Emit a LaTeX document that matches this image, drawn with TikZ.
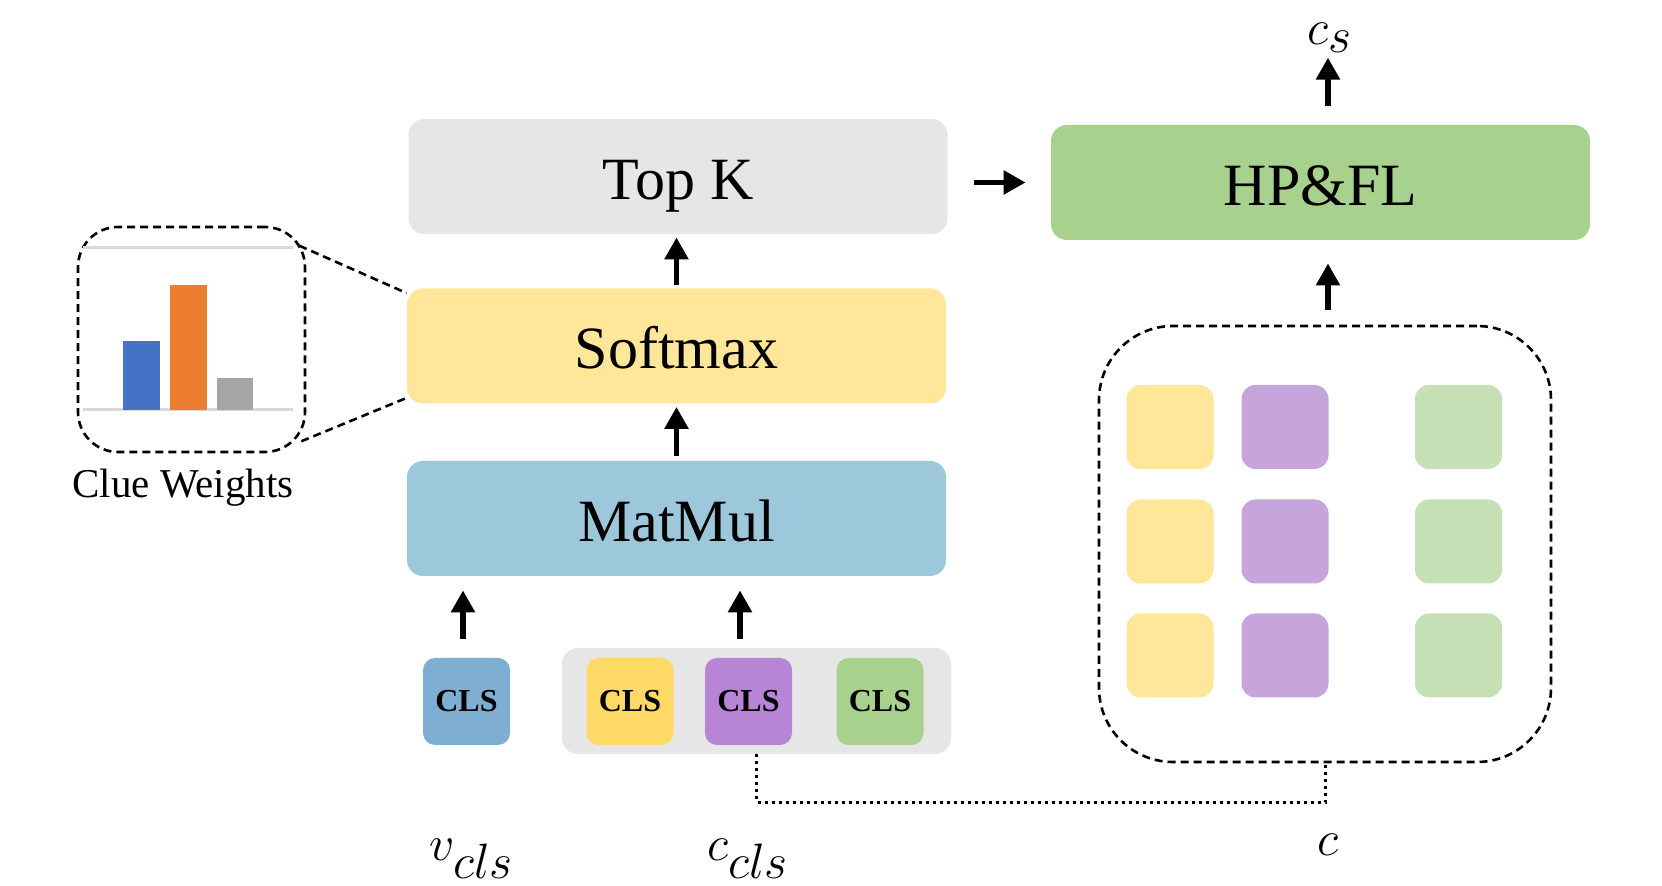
\documentclass[tikz,border=0pt]{standalone}
\usepackage{fontspec}
\setmainfont{Liberation Serif}
\usetikzlibrary{arrows.meta}
\definecolor{topkc}{HTML}{E7E6E6}
\definecolor{softc}{HTML}{FFE699}
\definecolor{matc}{HTML}{9DC8DC}
\definecolor{hpc}{HTML}{A9D18E}
\definecolor{vtc}{HTML}{7FAED3}
\definecolor{ytc}{HTML}{FFD966}
\definecolor{ptc}{HTML}{B884D6}
\definecolor{gtc}{HTML}{A9D18E}
\definecolor{gry}{HTML}{FFE699}
\definecolor{grp}{HTML}{C5A5DC}
\definecolor{grg}{HTML}{C5E0B4}
\definecolor{barb}{HTML}{4472C4}
\definecolor{baro}{HTML}{ED7D31}
\definecolor{barg}{HTML}{A5A5A5}
\definecolor{axc}{HTML}{D9D9D9}
\begin{document}
\begin{tikzpicture}[x=0.5pt,y=-0.5pt,
  block/.style={rounded corners=8pt, minimum width=269.5pt, minimum height=57.5pt, inner sep=0pt, text height=23pt, text depth=0pt, font=\fontsize{30}{36}\selectfont},
  tok/.style={rounded corners=6pt, minimum width=43.5pt, minimum height=43.5pt, inner sep=0pt, font=\bfseries\fontsize{16}{19}\selectfont},
  sq/.style={rounded corners=7pt, minimum width=43.5pt, minimum height=42pt, inner sep=0pt},
  arr/.style={line width=2.8pt, -{Triangle[length=11pt,width=11.5pt]}},
  dsh/.style={line width=1.3pt, dash pattern=on 4pt off 2.5pt},
  mlabel/.style={anchor=base, font=\fontsize{33}{40}\selectfont}]
\useasboundingbox (0,0) rectangle (1662,886);

% main blocks
\node[block, fill=topkc] (topk) at (678,176.5) {Top K};
\node[block, fill=softc] (softmax) at (676.5,346) {Softmax};
\node[block, fill=matc] (matmul) at (676.5,518.5) {MatMul};
\node[block, fill=hpc] (hpfl) at (1320.5,182.5) {HP\&FL};

% arrows between blocks
\draw[arr] ([yshift=1.5pt]softmax.north) -- ([yshift=-1.5pt]topk.south -| softmax.north);
\draw[arr] ([yshift=2.5pt]matmul.north) -- ([yshift=-1.5pt]softmax.south -| matmul.north);
\draw[arr] ([xshift=13pt]topk.east |- hpfl.west) -- ([xshift=-12.5pt]hpfl.west);

% clue weights
\node[dsh, draw, rounded corners=20pt, minimum width=113.5pt, minimum height=112.5pt] (cw) at (191.5,339.5) {};
\draw[line width=1.5pt, axc] (83,248) -- (293,248);
\draw[line width=1.5pt, axc] (83,410) -- (293,410);
\fill[barb] (123,410) rectangle (160,341);
\fill[baro] (170,410) rectangle (207,285);
\fill[barg] (217,410) rectangle (253,378);
\node[font=\fontsize{20.5}{24}\selectfont] (cwl) at (183,488) {Clue Weights};
\draw[dsh] ([xshift=-3.5pt,yshift=-10pt]cw.north east) -- ([yshift=-2.5pt]softmax.north west);
\draw[dsh] ([xshift=-2.5pt,yshift=6pt]cw.south east) -- ([yshift=3pt]softmax.south west);

% tokens
\node[tok, fill=vtc] (vtok) at (466.5,701.5) {CLS};
\node[rounded corners=8pt, fill=topkc, minimum width=194.5pt, minimum height=53pt, inner sep=0pt] (cont) at (756.5,701) {};
\node[tok, fill=ytc] (ytok) at (630,701.5) {CLS};
\node[tok, fill=ptc] (ptok) at (748.5,701.5) {CLS};
\node[tok, fill=gtc] (gtok) at (880,701.5) {CLS};

\draw[arr] ([xshift=-1.75pt,yshift=9.5pt]vtok.north) -- ([xshift=-1.75pt,yshift=-7pt]matmul.south -| vtok.north);
\draw[arr] ([xshift=-4.25pt,yshift=9.5pt]ptok.north) -- ([xshift=-4.25pt,yshift=-7pt]matmul.south -| ptok.north);

% right grid
\node[dsh, draw, rounded corners=37pt, minimum width=226pt, minimum height=218pt, inner sep=0pt] (cbox) at (1325,544) {};
\foreach \r/\y in {1/427,2/541.5,3/655.5}{
  \node[sq, fill=gry] (y\r) at (1170,\y) {};
  \node[sq, fill=grp] (p\r) at (1285,\y) {};
  \node[sq, fill=grg] (g\r) at (1458.5,\y) {};
}
\draw[arr] ([xshift=1.5pt,yshift=7.5pt]cbox.north) -- ([xshift=1.5pt,yshift=-11.5pt]hpfl.south -| cbox.north);
\draw[arr] ([xshift=1.5pt,yshift=9.5pt]hpfl.north -| cbox.north) -- ([xshift=1.5pt,yshift=33.5pt]hpfl.north -| cbox.north);

% dotted link
\draw[line width=1.5pt, dotted] (cont.south) -- ++(0,48) -| (cbox.south);

% labels
\node[mlabel] (vl) at (472,861) {$v_{cls}$};
\node[mlabel] (cl) at (748,861) {$c_{cls}$};
\node[mlabel] (call) at (1328,856) {$c$};
\node[mlabel] (csl) at (1330,45) {$c_{s}$};
\end{tikzpicture}
\end{document}
